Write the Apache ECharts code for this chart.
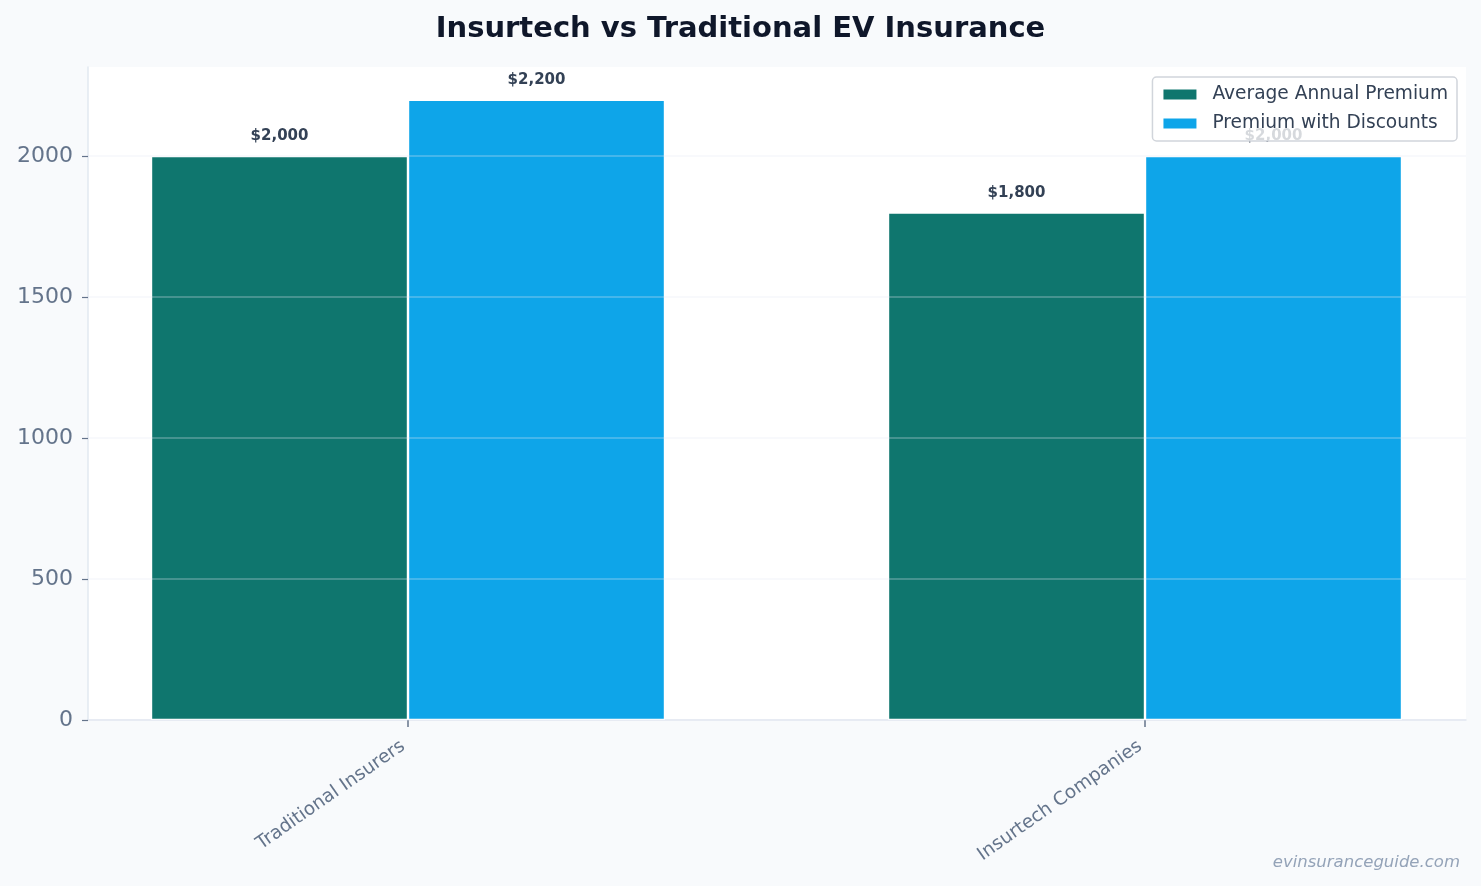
<!DOCTYPE html>
<html>
<head>
<meta charset="utf-8">
<script src="https://cdn.jsdelivr.net/npm/echarts@6/dist/echarts.min.js"></script>
<style>
  html, body { margin: 0; padding: 0; background: #f8fafc; }
  #main { width: 1481px; height: 886px; }
</style>
</head>
<body>
<div id="main"></div>
<script>
// data
const categories = ['Traditional Insurers', 'Insurtech Companies']
const avgPremium = [2000, 1800]
const discountPremium = [2200, 2000]
const seriesNames = ['Average Annual Premium', 'Premium with Discounts']
const yMax = 2316
const tickMax = 2000

const font = 'DejaVu Sans'
let myChart = echarts.init(document.getElementById('main'))

const barLabel = {
  show: true,
  position: 'top',
  distance: 12,
  fontFamily: font,
  fontWeight: 'bold',
  fontSize: 15,
  color: '#334155',
  formatter: p => '$' + p.value.toLocaleString('en-US')
}

myChart.setOption({
  backgroundColor: '#f8fafc',
  textStyle: { fontFamily: font },
  title: {
    text: 'Insurtech vs Traditional EV Insurance',
    left: 'center',
    top: 10,
    textStyle: { fontFamily: font, fontSize: 29, fontWeight: 'bold', color: '#0f172a' }
  },
  legend: {
    data: seriesNames,
    orient: 'vertical',
    right: 24,
    top: 77,
    icon: 'rect',
    itemWidth: 35,
    itemHeight: 12,
    itemGap: 10,
    padding: [8, 9, 8, 9],
    backgroundColor: 'rgba(255,255,255,0.8)',
    borderColor: '#d1d5db',
    borderWidth: 1.5,
    borderRadius: 4,
    textStyle: { fontFamily: font, fontSize: 18.6, color: '#334155', padding: [0, 0, 0, 10] }
  },
  grid: [
    // white plot frame
    { left: 88, right: 15, top: 67, bottom: 166, show: true, backgroundColor: '#ffffff', borderWidth: 0, outerBoundsMode: 'none' },
    // y ticks, labels and grid lines (0..2000)
    { left: 88, right: 15, top: 156, bottom: 166, outerBoundsMode: 'none' },
    // bars, widened so the category centres fall where the reference has them
    { left: 39.5, width: 1474, top: 67, bottom: 166, outerBoundsMode: 'none' }
  ],
  xAxis: [
    {
      gridIndex: 0,
      type: 'value',
      min: 0,
      max: 1,
      axisLine: { show: true, lineStyle: { color: '#e2e8f0', width: 1.5 } },
      axisTick: { show: false },
      axisLabel: { show: false },
      splitLine: { show: false }
    },
    {
      gridIndex: 1,
      type: 'value',
      min: 0,
      max: 1,
      show: false
    },
    {
      gridIndex: 2,
      type: 'category',
      data: categories,
      axisLine: { show: false },
      axisTick: { show: true, alignWithLabel: true, length: 7, lineStyle: { color: '#64748b', width: 1.5 } },
      axisLabel: { rotate: 35, fontFamily: font, fontSize: 18.5, color: '#64748b', margin: 21, padding: [0, 6, 0, 0] }
    }
  ],
  yAxis: [
    {
      gridIndex: 0,
      type: 'value',
      min: 0,
      max: yMax,
      axisLine: { show: true, lineStyle: { color: '#e2e8f0', width: 1.5 } },
      axisTick: { show: false },
      axisLabel: { show: false },
      splitLine: { show: false }
    },
    {
      gridIndex: 1,
      type: 'value',
      min: 0,
      max: tickMax,
      interval: 500,
      z: 5,
      axisLine: { show: false },
      axisTick: { show: true, length: 6, lineStyle: { color: '#64748b', width: 1.2 } },
      axisLabel: {
        fontFamily: font,
        fontSize: 22,
        color: '#64748b',
        margin: 15,
        padding: [10, 0, 0, 0],
        formatter: v => String(v)
      },
      splitLine: { show: true, lineStyle: { color: 'rgba(226,232,240,0.35)', width: 1.5 } }
    },
    {
      gridIndex: 2,
      type: 'value',
      min: 0,
      max: yMax,
      show: false
    }
  ],
  series: [
    {
      name: seriesNames[0],
      type: 'bar',
      xAxisIndex: 2,
      yAxisIndex: 2,
      data: avgPremium,
      barWidth: 257,
      barGap: '0%',
      itemStyle: { color: '#0f766e', borderColor: '#ffffff', borderWidth: 1.2 },
      label: barLabel
    },
    {
      name: seriesNames[1],
      type: 'bar',
      xAxisIndex: 2,
      yAxisIndex: 2,
      data: discountPremium,
      barWidth: 257,
      barGap: '0%',
      itemStyle: { color: '#0ea5e9', borderColor: '#ffffff', borderWidth: 1.2 },
      label: barLabel
    }
  ],
  graphic: [
    {
      type: 'text',
      right: 21,
      bottom: 15,
      style: {
        text: 'evinsuranceguide.com',
        fontFamily: font,
        fontStyle: 'italic',
        fontSize: 16.5,
        fill: '#94a3b8'
      }
    }
  ]
})
</script>
</body>
</html>
